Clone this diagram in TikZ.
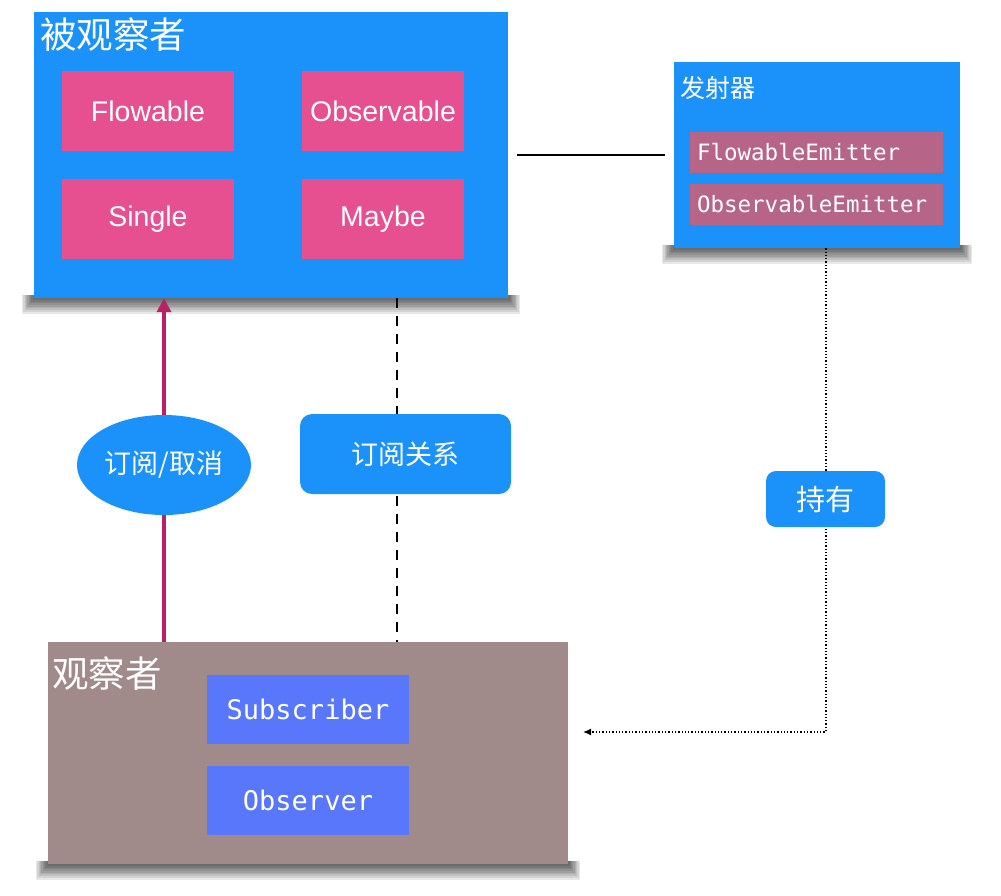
\documentclass[tikz,border=0pt]{standalone}
\usepackage{fontspec}
\setmainfont{Liberation Sans}
\setmonofont{DejaVu Sans Mono}
\newfontfamily\cjk{Noto Sans CJK SC}
\usetikzlibrary{shapes.geometric,arrows.meta}
\definecolor{cblue}{RGB}{27, 146, 250}
\definecolor{cpink}{RGB}{230, 79, 144}
\definecolor{cplum}{RGB}{183, 101, 135}
\definecolor{cbrown}{RGB}{161, 139, 138}
\definecolor{cindigo}{RGB}{89, 119, 250}
\definecolor{cmag}{RGB}{183, 33, 102}
% soft shadow under a group box
\newcommand{\groundshadow}[1]{\foreach \s in {1,...,9} \fill [black, opacity=0.09] ([xshift={-1.3*\s pt}, yshift=3pt]#1.south west) rectangle ([xshift={1.3*\s pt}, yshift={-1.7*\s pt}]#1.south east);}

\begin{document}
\begin{tikzpicture}[x=1pt, y=-1pt,
every node/.style={inner sep=0pt, text=white},
group/.style={rectangle},
kind/.style={rectangle, fill=cpink, font=\fontsize{28.5}{28.5}\selectfont},
emitter/.style={rectangle, fill=cplum, text width=239pt, align=left, inner xsep=7pt, minimum height=41pt, font=\ttfamily\fontsize{22.5}{22.5}\selectfont},
role/.style={rectangle, fill=cindigo, minimum width=202pt, minimum height=69pt, font=\ttfamily\fontsize{27}{27}\selectfont},
tag/.style={fill=cblue, font=\cjk\fontsize{27}{27}\selectfont}]
\useasboundingbox (0,0) rectangle (1001,895);
% group boxes, shadows first
\path (271,155) node (obs) [group, minimum width=474pt, minimum height=286pt] {}
      (817,155) node (emit) [group, minimum width=286pt, minimum height=186pt] {}
      (308,753) node (obsr) [group, minimum width=520pt, minimum height=222pt] {};
\groundshadow{obs}
\groundshadow{emit}
\groundshadow{obsr}
\fill [cblue] (obs.north west) rectangle (obs.south east);
\fill [cblue] (emit.north west) rectangle (emit.south east);
\fill [cbrown] (obsr.north west) rectangle (obsr.south east);
% observable side
\node (obsT) [anchor=base west, font=\cjk\fontsize{36.5}{36.5}\selectfont] at (40,48) {被观察者};
\node (flow) [kind, minimum width=172pt, minimum height=80pt] at (148,111) {Flowable};
\node (observable) [kind, minimum width=162pt, minimum height=80pt] at (383,111) {Observable};
\node (single) [kind, minimum width=172pt, minimum height=80pt] at (148,219) {Single};
\node (maybe) [kind, minimum width=162pt, minimum height=80pt] at (383,219) {Maybe};
% emitter
\node (emitT) [anchor=base west, font=\cjk\fontsize{25}{25}\selectfont] at (680,97) {发射器};
\node (fe) [emitter] at (816.5,152.5) {FlowableEmitter};
\node (oe) [emitter] at (816.5,204) {ObservableEmitter};
% observer side
\node (obsrT) [anchor=base west, font=\cjk\fontsize{36.5}{36.5}\selectfont] at (52,687) {观察者};
\node (sub) [role] at (308,709.5) {Subscriber};
\node (observer) [role] at (308,800.5) {Observer};
% connectors
\coordinate (d1) at (397,298);
\coordinate (d2) at (397,642);
\coordinate (hend) at (583,732);
\draw [line width=1.2pt, shorten <=9pt, shorten >=9pt] (obs.east) -- (emit.west);
\draw [line width=1.2pt, dash pattern=on 10pt off 8pt] (d1) -- (d2);
\draw [line width=3.5pt, color=cmag, -{Triangle[width=14pt, length=14pt]}] (obsr.north -| 164,0) -- (obs.south -| 164,0);
\draw [line width=1.3pt, dotted, -{Latex[length=8pt, width=7pt]}] (emit.south -| 826,0) |- (hend);
% labels
\node (sub1) [tag, ellipse, minimum width=174pt, minimum height=100pt] at (164,465) {订阅/取消};
\node (rel) [tag, rectangle, rounded corners=12pt, minimum width=211pt, minimum height=80pt] at (405.5,454) {订阅关系};
\node (hold) [tag, rectangle, rounded corners=10pt, minimum width=119pt, minimum height=56pt, font=\cjk\fontsize{29}{29}\selectfont] at (825.5,499) {持有};
\end{tikzpicture}
\end{document}
